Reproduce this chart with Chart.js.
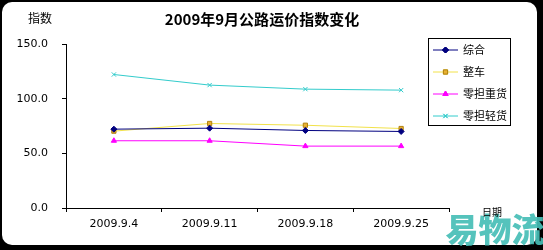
<!DOCTYPE html>
<html>
<head>
<meta charset="utf-8">
<script src="https://cdn.jsdelivr.net/npm/chart.js@4/dist/chart.umd.min.js"></script>
<style>
  html, body { margin: 0; padding: 0; background: #fff; }
  #wrap { width: 543px; height: 250px; }
</style>
</head>
<body>
<div id="wrap"><canvas id="chartIndice" width="543" height="250"></canvas></div>
<script>
// Datos
const fechas = ["2009.9.4", "2009.9.11", "2009.9.18", "2009.9.25"];
const zonghe = [72.1, 73.0, 70.9, 70.0];
const zhengche = [70.3, 77.3, 75.7, 72.7];
const lingdanZhong = [61.5, 61.5, 56.6, 56.6];
const lingdanQing = [122.1, 112.4, 108.7, 107.8];
const seriesNames = ["综合", "整车", "零担重货", "零担轻货"];
const yTicks = [0, 50, 100, 150];

const titulo = "2009年9月公路运价指数变化";
const CJK = '"Noto Sans CJK SC", "Noto Sans", sans-serif';

// Marco, textos y leyenda dibujados a mano
const decoracion = {
  id: "decoracion",
  beforeDraw(chart) {
    const ctx = chart.ctx;
    ctx.save();
    ctx.fillStyle = "#000";
    ctx.fillRect(0, 0, chart.width, chart.height);
    ctx.fillStyle = "#fff";
    ctx.beginPath();
    ctx.roundRect(2, 2, 535, 243, 10);
    ctx.fill();
    ctx.restore();
  },
  afterDraw(chart) {
    const ctx = chart.ctx;
    ctx.save();
    ctx.fillStyle = "#000";
    ctx.textBaseline = "middle";
    ctx.textAlign = "center";
    ctx.font = "bold 15px " + CJK;
    ctx.fillText(titulo, 262, 19);
    ctx.font = "12px " + CJK;
    ctx.fillText("指数", 40, 18);

    // leyenda
    ctx.strokeStyle = "#000";
    ctx.lineWidth = 1;
    ctx.strokeRect(428.5, 38.5, 82, 87);
    chart.data.datasets.forEach((ds, i) => {
      const y = 50 + i * 22;
      ctx.strokeStyle = ds.borderColor;
      ctx.beginPath();
      ctx.moveTo(433, y);
      ctx.lineTo(458, y);
      ctx.stroke();
      if (Chart.helpers && Chart.helpers.drawPoint) {
        Chart.helpers.drawPoint(ctx, {
          pointStyle: ds.pointStyle,
          radius: ds.pointRadius,
          rotation: 0,
          borderWidth: 1,
        }, 445.5, y);
        ctx.fillStyle = ds.pointBackgroundColor;
        ctx.strokeStyle = ds.pointBorderColor;
        ctx.fill();
        ctx.stroke();
      }
      ctx.fillStyle = "#000";
      ctx.textAlign = "left";
      ctx.font = "11px " + CJK;
      ctx.fillText(ds.label, 463, y);
    });

    // marca de agua
    ctx.textAlign = "center";
    ctx.font = "900 33px " + CJK;
    ctx.fillStyle = "rgba(70, 190, 182, 0.92)";
    ctx.fillText("易物流", 495, 229);

    ctx.font = "10px " + CJK;
    ctx.fillStyle = "#000";
    ctx.fillText("日期", 492, 212);
    ctx.restore();
  },
};

function serie(label, data, linea, relleno, borde, estilo) {
  return {
    label: label,
    data: data,
    borderColor: linea,
    backgroundColor: relleno,
    pointBackgroundColor: relleno,
    pointBorderColor: borde,
    pointStyle: estilo,
    pointRadius: 3,
    pointBorderWidth: 1,
    borderWidth: 1,
    fill: false,
    tension: 0,
  };
}

new Chart(document.getElementById("chartIndice"), {
  type: "line",
  data: {
    labels: fechas,
    datasets: [
      serie(seriesNames[0], zonghe, "#000080", "#000080", "#000080", "rectRot"),
      serie(seriesNames[1], zhengche, "#f2e24a", "#e8b030", "#b08010", "rect"),
      serie(seriesNames[2], lingdanZhong, "#ff00ff", "#ff00ff", "#ff00ff", "triangle"),
      serie(seriesNames[3], lingdanQing, "#33cccc", "#33cccc", "#33cccc", "crossRot"),
    ],
  },
  options: {
    responsive: false,
    animation: false,
    layout: { padding: { left: 0, top: 44, right: 94, bottom: 0 } },
    plugins: {
      legend: { display: false },
      title: { display: false },
      tooltip: { enabled: false },
    },
    scales: {
      x: {
        offset: true,
        afterFit(scale) { scale.height = 42; },
        grid: {
          offset: true,
          drawOnChartArea: false,
          drawTicks: true,
          tickLength: 4,
          color: "#000",
        },
        border: { display: true, color: "#000", width: 1 },
        ticks: {
          color: "#000",
          padding: 6,
          maxRotation: 0,
          font: { family: "DejaVu Sans", size: 11 },
        },
      },
      y: {
        min: yTicks[0],
        max: yTicks[yTicks.length - 1],
        afterFit(scale) { scale.width = 66; },
        afterBuildTicks(scale) {
          scale.ticks = yTicks.map((v) => ({ value: v }));
        },
        grid: {
          drawOnChartArea: false,
          drawTicks: true,
          tickLength: 4,
          color: "#000",
        },
        border: { display: true, color: "#000", width: 1 },
        ticks: {
          color: "#000",
          padding: 14,
          font: { family: "DejaVu Sans", size: 11 },
          callback: (v) => Number(v).toFixed(1),
        },
      },
    },
  },
  plugins: [decoracion],
});
</script>
</body>
</html>
